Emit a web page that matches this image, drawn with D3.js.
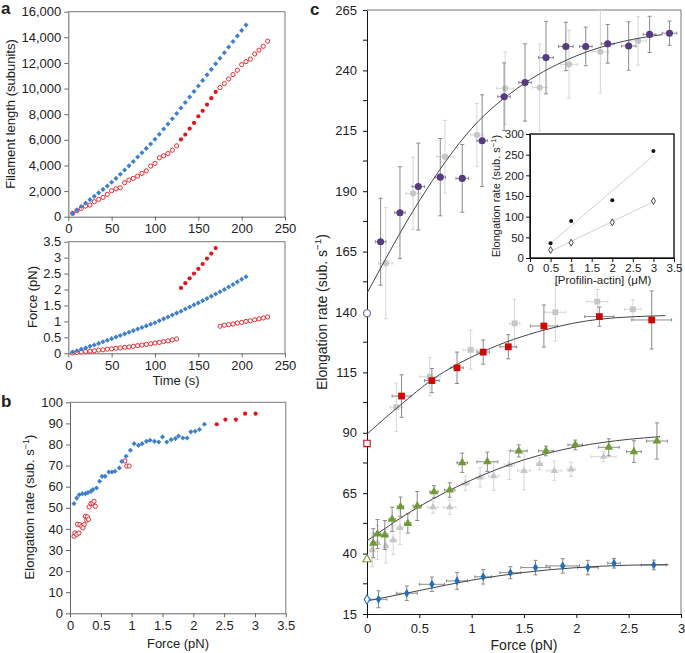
<!DOCTYPE html>
<html>
<head>
<meta charset="utf-8">
<script src="https://cdn.jsdelivr.net/npm/d3@7"></script>
<style>
  body { margin: 0; background: #fff; }
  text { font-family: "Liberation Sans", Arial, sans-serif; fill: #222; }
</style>
</head>
<body>
<div id="chart"></div>
<script>
// ---- panel a: filament length / force vs time ----
const tBlue = [5,10,15,20,25,30,35,40,45,50,55,60,65,70,75,80,85,90,95,100,105,110,115,120,125,130,135,140,145,150,155,160,165,170,175,180,185,190,195,200,205];
const lenBlue = [260,530,800,1070,1330,1590,1860,2130,2400,2690,2990,3310,3640,3970,4310,4660,4990,5330,5680,6050,6440,6840,7240,7640,8050,8480,8910,9340,9770,10200,10640,11070,11500,11930,12370,12800,13240,13680,14110,14540,14960];
const forceBlue = [0.04,0.08,0.13,0.17,0.22,0.26,0.31,0.36,0.41,0.46,0.51,0.56,0.61,0.66,0.71,0.76,0.81,0.86,0.91,0.96,1.02,1.08,1.14,1.2,1.26,1.32,1.39,1.45,1.52,1.58,1.65,1.72,1.79,1.86,1.93,2.0,2.08,2.16,2.24,2.32,2.4];

const tRedOpen1 = [5,10,15,20,25,30,35,40,45,50,55,60,65,70,75,80,85,90,95,100,105,110,115,120,125];
const lenRedOpen1 = [260,470,650,830,910,1170,1350,1510,1740,2030,2180,2260,2650,2860,2990,3170,3380,3580,3950,4160,4600,4750,4930,5190,5530];
const forceRedOpen1 = [0.01,0.03,0.04,0.06,0.07,0.08,0.1,0.11,0.13,0.14,0.16,0.17,0.19,0.2,0.22,0.24,0.26,0.28,0.3,0.32,0.34,0.37,0.39,0.42,0.45];

const tRedFilled = [130,135,140,145,150,155,160,165,170];
const lenRedFilled = [6030,6410,6880,7320,7840,8260,8750,9250,9740];
const forceRedFilled = [2.05,2.2,2.35,2.5,2.65,2.8,2.97,3.13,3.3];

const tRedOpen2 = [175,180,185,190,195,200,205,210,215,220,225,230];
const lenRedOpen2 = [10080,10390,10750,11090,11430,11870,12100,12300,12700,13000,13300,13700];
const forceRedOpen2 = [0.85,0.88,0.9,0.92,0.95,0.97,1.0,1.02,1.05,1.08,1.11,1.14];

// ---- panel b: elongation rate vs force ----
const bBlueF = [0.065,0.108,0.15,0.2,0.25,0.29,0.34,0.37,0.43,0.48,0.52,0.57,0.63,0.68,0.73,0.8,0.84,0.91,0.98,1.04,1.11,1.17,1.24,1.3,1.37,1.44,1.5,1.57,1.64,1.71,1.76,1.83,1.9,1.96,2.03,2.1,2.18];
const bBlueR = [52,54.6,56.2,56.7,56.7,57.2,57.8,58.6,59.4,62.6,64.9,64.9,67,67,67.3,68.9,72,74.4,77.3,80.4,79.6,80.4,81.5,82,81.5,81.2,83.6,81.2,82.3,82.8,84,83.1,83.1,86,86.3,87.1,89.6];
const bRedOpenF = [0.065,0.08,0.11,0.146,0.12,0.16,0.19,0.23,0.21,0.25,0.27,0.28,0.3,0.31,0.34,0.37,0.39,0.41,0.89,0.92,0.96];
const bRedOpenR = [36.5,38.1,37.4,38,42.2,42,41.2,42,40.5,46,44.1,45.7,44.5,50.4,52,52.3,53.1,50.7,72.2,69.8,69.8];
const bRedFilledF = [2.38,2.52,2.69,2.84,3.01];
const bRedFilledR = [89.6,91.8,91.8,94.6,94.6];

// ---- panel c: elongation rate vs force, four profilin-actin levels ----
const purpleF = [0.13,0.315,0.49,0.7,0.91,1.1,1.31,1.51,1.71,1.9,2.09,2.3,2.5,2.7,2.89];
const purpleR = [169.1,181.1,191.9,195.8,195.3,210.9,229.1,235,245.3,249.9,249.9,251,250.1,254.9,255.4];
const purpleErr = [18,19,18,16,14,19,14,16,15,10,8,8,10,7.5,5];
const purpleXErr = [0.05,0.05,0.06,0.05,0.06,0.05,0.06,0.06,0.07,0.07,0.06,0.06,0.07,0.06,0.07];
const purpleZero = 139.5;
const purpleGrayF = [0.18,0.44,0.745,1.05,1.32,1.65,1.93,2.23,2.59];
const purpleGrayR = [160.2,189.1,204.3,213.3,232.6,232.9,242.5,247.7,252.2];
const purpleGrayErr = [23,15,15,13,15,18,14,17,10];
const purpleGrayXErr = [0.07,0.07,0.08,0.06,0.08,0.07,0.08,0.08,0.08];
const purpleFitF = [0,0.5,1.0,1.5,2.0,2.5,2.82];
const purpleFitR = [147.7,186,216,234.5,246,252.5,254.8];

const redF = [0.33,0.62,0.86,1.11,1.35,1.69,2.22,2.72];
const redR = [105.2,111.6,116.9,123.4,125.6,134.2,138.1,136.7];
const redErr = [8.8,5,6.5,5,5,8.7,4,12];
const redXErr = [0.09,0.07,0.06,0.06,0.08,0.13,0.14,0.19];
const redZero = 85.6;
const redGrayF = [0.28,0.6,0.99,1.41,1.8,2.2,2.54];
const redGrayR = [100.6,113.2,124.3,135.3,139.9,144.3,141.1];
const redGrayErr = [10,8,8,10,12,5,4];
const redGrayXErr = [0.06,0.1,0.07,0.05,0.1,0.1,0.08];
const redFitF = [0,0.33,0.62,1.11,1.69,2.22,2.85];
const redFitR = [89.5,101.9,111.9,123.6,132.5,137,138.5];

const greenF = [0.06,0.1,0.17,0.24,0.32,0.39,0.48,0.64,0.79,0.91,1.15,1.45,1.71,1.99,2.31,2.55,2.77];
const greenR = [44.3,48.1,47.7,54.2,59.4,52.5,59.7,65.6,66.3,77.6,78,82.5,82.5,85,84,82.2,86.6];
const greenErr = [6,6,6,5,4,4,6,2.5,3,4,4,2.5,2,2,3.5,4.5,7.5];
const greenXErr = [0.02,0.03,0.03,0.03,0.03,0.03,0.04,0.04,0.05,0.05,0.1,0.08,0.07,0.07,0.1,0.07,0.1];
const greenZero = 37.6;
const greenGrayF = [0.05,0.1,0.18,0.25,0.315,0.63,0.79,0.94,1.08,1.21,1.36,1.5,1.65,1.79,1.95,2.26];
const greenGrayR = [41.5,44.5,43.1,45.6,50.7,59.2,59.2,69.1,71.6,72.1,76.7,74.3,77.1,74.3,74.9,80.1];
const greenGrayErr = [7,7,7,6,7,2.5,3,3,4,6,6,8,2.5,4,3,2];
const greenGrayXErr = [0.02,0.02,0.02,0.03,0.03,0.05,0.06,0.04,0.04,0.05,0.05,0.06,0.03,0.07,0.04,0.12];
const greenFitF = [0,0.5,1.0,1.5,2.0,2.5,2.8];
const greenFitR = [45.3,59.5,70.5,78.8,84.2,87.3,88.4];

const blueF = [0.11,0.38,0.62,0.86,1.11,1.37,1.61,1.87,2.11,2.36,2.74];
const blueR = [21.1,23.6,27.3,28.7,30.4,32.1,34.2,34.9,34.2,36,35.3];
const blueErr = [3.5,3,3,3.5,3,2.5,3,3,3,2,2];
const blueXErr = [0.08,0.1,0.12,0.1,0.08,0.1,0.14,0.16,0.1,0.06,0.12];
const blueZero = 21;
const blueFitF = [0,0.5,1,1.5,2,2.5,2.88];
const blueFitR = [20.4,24.7,29,32.2,34.2,35.2,35.4];

// inset: rate at zero force vs [profilin-actin]
const insetConc = [0.5,1,2,3];
const insetFilled = [35.5,89.5,139.6,259];
const insetOpen = [19.4,37,86.3,138];

const BLUE_A = "#3f7fcc", RED_A = "#e3141c";
const PURPLE = "#573a80", RED_C = "#cc0a0a", GREEN = "#6f9a34", BLUE_C = "#1d6fbd";
const GRAY = "#c6c6c6", ERR = "#8a8a8a", ERR_GRAY = "#d6d6d6";

const svg = d3.select("#chart").append("svg").attr("width", 685).attr("height", 653);

function axes(x, y, o) {
  const g = svg.append("g");
  const [x0, x1] = x.range(), [y0, y1] = y.range();
  const ax = g.append("g").attr("transform", `translate(0,${y0})`)
    .call(d3.axisBottom(x).tickValues(o.xt).tickFormat(o.xf || d3.format("~g")).tickSize(4).tickSizeOuter(0).tickPadding(o.pad || 3));
  const ay = g.append("g").attr("transform", `translate(${x0},0)`)
    .call(d3.axisLeft(y).tickValues(o.yt).tickFormat(o.yf || d3.format("~g")).tickSize(4).tickSizeOuter(0).tickPadding(o.pad || 3));
  [ax, ay].forEach(a => {
    a.attr("font-size", o.fs || 13).attr("font-family", null);
    a.selectAll("line, path").attr("stroke", o.axisColor || "#666");
    a.selectAll("text").attr("fill", "#222");
  });
  if (o.box) {
    g.append("path").attr("d", `M${x0},${y1}H${x1}V${y0}`).attr("fill", "none")
      .attr("stroke", o.boxColor || "#777").attr("stroke-width", o.boxWidth || 1);
  }
  return g;
}

function rateLabel(x, y, size) {
  const t = svg.append("text").attr("transform", `translate(${x},${y}) rotate(-90)`)
    .attr("text-anchor", "middle").attr("font-size", size);
  t.append("tspan").text("Elongation rate (sub. s");
  t.append("tspan").attr("dy", -size * 0.4).attr("font-size", size * 0.7).text("−1");
  t.append("tspan").attr("dy", size * 0.4).text(")");
}

function label(txt, x, y, size, rot, weight) {
  svg.append("text").attr("transform", `translate(${x},${y})` + (rot ? " rotate(-90)" : ""))
    .attr("text-anchor", rot ? "middle" : "start").attr("font-size", size)
    .attr("font-weight", weight || null).text(txt);
}

// ---------- panel a ----------
const xA = d3.scaleLinear([0, 250], [68.3, 285]);
const yA1 = d3.scaleLinear([0, 16000], [216.7, 11.7]);
const yA2 = d3.scaleLinear([0, 3.5], [353.3, 241.7]);

axes(xA, yA1, {xt: d3.range(0, 251, 50), yt: d3.range(0, 16001, 2000), yf: d3.format(","), box: true});
axes(xA, yA2, {xt: d3.range(0, 251, 50), yt: d3.range(0, 3.51, 0.5), box: true});

function dots(xs, ys, x, y, kind, color) {
  const data = d3.zip(xs, ys);
  const g = svg.append("g");
  if (kind === "diamond") {
    g.selectAll("path").data(data).join("path")
      .attr("transform", d => `translate(${x(d[0])},${y(d[1])}) rotate(45)`)
      .attr("d", d3.symbol(d3.symbolSquare, 13)).attr("fill", color);
  } else {
    g.selectAll("circle").data(data).join("circle")
      .attr("cx", d => x(d[0])).attr("cy", d => y(d[1])).attr("r", 2.1)
      .attr("fill", kind === "open" ? "#fff" : color)
      .attr("stroke", color).attr("stroke-width", kind === "open" ? 0.9 : 0);
  }
}

dots(tRedOpen1, lenRedOpen1, xA, yA1, "open", RED_A);
dots(tRedFilled, lenRedFilled, xA, yA1, "filled", RED_A);
dots(tRedOpen2, lenRedOpen2, xA, yA1, "open", RED_A);
dots(tBlue, lenBlue, xA, yA1, "diamond", BLUE_A);

dots(tRedOpen1, forceRedOpen1, xA, yA2, "open", RED_A);
dots(tRedFilled, forceRedFilled, xA, yA2, "filled", RED_A);
dots(tRedOpen2, forceRedOpen2, xA, yA2, "open", RED_A);
dots(tBlue, forceBlue, xA, yA2, "diamond", BLUE_A);

label("Filament length (subunits)", 15, 114, 13, true);
label("Force (pN)", 37, 297, 13, true);
svg.append("text").attr("x", 176).attr("y", 385).attr("text-anchor", "middle").attr("font-size", 13).text("Time (s)");
label("a", 1, 14, 17, false, "bold");

// ---------- panel b ----------
const xB = d3.scaleLinear([0, 3.5], [70, 285.8]);
const yB = d3.scaleLinear([0, 100], [613.3, 402.3]);
axes(xB, yB, {xt: d3.range(0, 3.51, 0.5), yt: d3.range(0, 101, 10), box: true});
dots(bRedOpenF, bRedOpenR, xB, yB, "open", RED_A);
dots(bBlueF, bBlueR, xB, yB, "diamond", BLUE_A);
dots(bRedFilledF, bRedFilledR, xB, yB, "filled", RED_A);
rateLabel(34, 507, 13);
svg.append("text").attr("x", 178).attr("y", 648).attr("text-anchor", "middle").attr("font-size", 13).text("Force (pN)");
label("b", 1, 407, 17, false, "bold");

// ---------- panel c ----------
const xC = d3.scaleLinear([0, 3], [367, 681]);
const yC = d3.scaleLinear([15, 265], [614, 10]);
const gC = axes(xC, yC, {xt: d3.range(0, 3.01, 0.5), yt: d3.range(15, 266, 25), axisColor: "#111",
  box: true, boxColor: "#777", pad: 6});
// minor ticks on the rate axis
gC.append("g").selectAll("line").data(d3.range(27.5, 265, 25)).join("line")
  .attr("x1", 363).attr("x2", 367).attr("y1", d => yC(d)).attr("y2", d => yC(d)).attr("stroke", "#111");

function errBars(F, R, E, XE, color) {
  const g = svg.append("g").attr("stroke", color).attr("stroke-width", 1);
  d3.zip(F, R, E, XE).forEach(([f, r, e, xe]) => {
    const cx = xC(f), cy = yC(r);
    g.append("line").attr("x1", cx).attr("x2", cx).attr("y1", yC(r - e)).attr("y2", yC(r + e));
    g.append("line").attr("x1", cx - 2).attr("x2", cx + 2).attr("y1", yC(r - e)).attr("y2", yC(r - e));
    g.append("line").attr("x1", cx - 2).attr("x2", cx + 2).attr("y1", yC(r + e)).attr("y2", yC(r + e));
    g.append("line").attr("x1", xC(f - xe)).attr("x2", xC(f + xe)).attr("y1", cy).attr("y2", cy);
    g.append("line").attr("x1", xC(f - xe)).attr("x2", xC(f - xe)).attr("y1", cy - 1.5).attr("y2", cy + 1.5);
    g.append("line").attr("x1", xC(f + xe)).attr("x2", xC(f + xe)).attr("y1", cy - 1.5).attr("y2", cy + 1.5);
  });
}

function markers(F, R, sym, size, fill, stroke) {
  svg.append("g").selectAll("path").data(d3.zip(F, R)).join("path")
    .attr("transform", d => `translate(${xC(d[0])},${yC(d[1])})`)
    .attr("d", d3.symbol(sym, size))
    .attr("fill", fill).attr("stroke", stroke || "none").attr("stroke-width", stroke ? 1.1 : 0);
}

const fitLine = d3.line().x(d => xC(d[0])).y(d => yC(d[1])).curve(d3.curveMonotoneX);
function fit(F, R) {
  svg.append("path").attr("d", fitLine(d3.zip(F, R))).attr("fill", "none")
    .attr("stroke", "#444").attr("stroke-width", 1);
}

// gray (second dataset) first
errBars(purpleGrayF, purpleGrayR, purpleGrayErr, purpleGrayXErr, ERR_GRAY);
errBars(redGrayF, redGrayR, redGrayErr, redGrayXErr, ERR_GRAY);
errBars(greenGrayF, greenGrayR, greenGrayErr, greenGrayXErr, ERR_GRAY);
markers(purpleGrayF, purpleGrayR, d3.symbolCircle, 30, GRAY);
markers(redGrayF, redGrayR, d3.symbolSquare, 34, GRAY);
markers(greenGrayF, greenGrayR, d3.symbolTriangle, 24, GRAY);

errBars(purpleF, purpleR, purpleErr, purpleXErr, ERR);
errBars(redF, redR, redErr, redXErr, ERR);
errBars(greenF, greenR, greenErr, greenXErr, ERR);
errBars(blueF, blueR, blueErr, blueXErr, ERR);

fit(purpleFitF, purpleFitR);
fit(redFitF, redFitR);
fit(greenFitF, greenFitR);
fit(blueFitF, blueFitR);

markers(purpleF, purpleR, d3.symbolCircle, 40, PURPLE);
markers(redF, redR, d3.symbolSquare, 46, RED_C);
markers(greenF, greenR, d3.symbolTriangle, 32, GREEN);
markers(blueF, blueR, d3.symbolDiamond, 24, BLUE_C);

// zero-force points (open)
markers([0], [purpleZero], d3.symbolCircle, 36, "#fff", "#7a68a6");
markers([0], [redZero], d3.symbolSquare, 40, "#fff", RED_C);
markers([0], [greenZero], d3.symbolTriangle, 30, "#fff", GREEN);
markers([0], [blueZero], d3.symbolDiamond, 26, "#fff", BLUE_C);

rateLabel(327, 312, 14);
svg.append("text").attr("x", 524).attr("y", 650).attr("text-anchor", "middle").attr("font-size", 14).text("Force (pN)");
label("c", 310, 15, 17, false, "bold");

// ---------- inset ----------
const xI = d3.scaleLinear([0, 3.5], [530, 674]);
const yI = d3.scaleLinear([0, 300], [258, 134]);
svg.append("rect").attr("x", 530).attr("y", 134).attr("width", 144).attr("height", 124).attr("fill", "#fff");
axes(xI, yI, {xt: d3.range(0, 3.51, 0.5), yt: d3.range(0, 301, 50), fs: 11.5, axisColor: "#111", pad: 2});
svg.append("rect").attr("x", 530).attr("y", 134).attr("width", 144).attr("height", 124)
  .attr("fill", "none").attr("stroke", "#111").attr("stroke-width", 1.4);

function lsq(xs, ys) {
  const mx = d3.mean(xs), my = d3.mean(ys);
  const b = d3.sum(xs, (x, i) => (x - mx) * (ys[i] - my)) / d3.sum(xs, x => (x - mx) ** 2);
  return [b, my - b * mx];
}
[insetFilled, insetOpen].forEach(vals => {
  const [b, a] = lsq(insetConc, vals);
  const ends = d3.extent(insetConc);
  svg.append("line").attr("x1", xI(ends[0])).attr("x2", xI(ends[1]))
    .attr("y1", yI(a + b * ends[0])).attr("y2", yI(a + b * ends[1]))
    .attr("stroke", "#cfcfcf").attr("stroke-width", 1);
});
svg.append("g").selectAll("circle").data(d3.zip(insetConc, insetFilled)).join("circle")
  .attr("cx", d => xI(d[0])).attr("cy", d => yI(d[1])).attr("r", 2).attr("fill", "#111");
svg.append("g").selectAll("path").data(d3.zip(insetConc, insetOpen)).join("path")
  .attr("transform", d => `translate(${xI(d[0])},${yI(d[1])})`)
  .attr("d", d3.symbol(d3.symbolDiamond, 14)).attr("fill", "#fff").attr("stroke", "#333").attr("stroke-width", 0.9);

rateLabel(500, 196, 11);
svg.append("text").attr("x", 603).attr("y", 284).attr("text-anchor", "middle").attr("font-size", 11.5).text("[Profilin-actin] (μM)");
</script>
</body>
</html>
